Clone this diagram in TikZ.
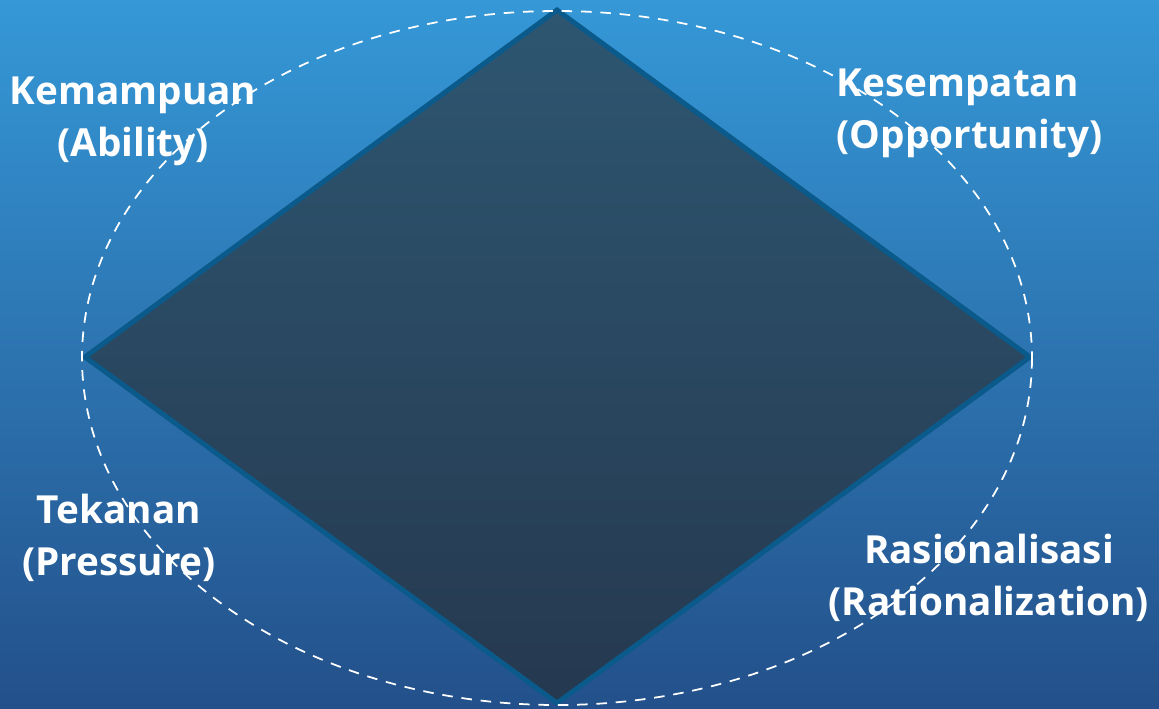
\documentclass[tikz,border=0pt]{standalone}
\usepackage{fontspec}
\setmainfont{Open Sans}
\usepackage{tikz}
\usetikzlibrary{positioning}
\definecolor{bgtop}{HTML}{3598D7}
\definecolor{bgbottom}{HTML}{23508A}
\definecolor{dtop}{HTML}{2E5671}
\definecolor{dbottom}{HTML}{25394F}
\definecolor{dborder}{HTML}{0A5A8B}
\tikzset{
	label text/.style={text=white, font=\bfseries\fontsize{11}{14.8}\selectfont, align=center, inner sep=0pt},
	fraud ring/.style={draw=white, line width=0.5pt, dash pattern=on 3pt off 2.5pt}
}

\begin{document}
\begin{tikzpicture}[x=0.01cm, y=-0.01cm]
		\shade[top color=bgtop, bottom color=bgbottom] (0,0) rectangle (1159,708);
		\useasboundingbox (0,0) rectangle (1159,708);
		% diamond corners
		\coordinate (top) at (557,10);
		\coordinate (right) at (1030,357);
		\coordinate (bottom) at (557,703);
		\coordinate (left) at (85,357);
		\shade[top color=dtop, bottom color=dbottom] (top) -- (right) -- (bottom) -- (left) -- cycle;
		\draw[dborder, line width=1.4pt, line join=miter] (top) -- (right) -- (bottom) -- (left) -- cycle;
		\draw[fraud ring] (557,358) ellipse [x radius=475, y radius=347];
		% labels
		\node[label text] (ability) at (133,121) {Kemampuan\\(Ability)};
		\node[label text, align=left, anchor=west] (opportunity) at (836,113) {Kesempatan\\(Opportunity)};
		\node[label text] (pressure) at (119,538) {Tekanan\\(Pressure)};
		\node[label text] (rationalization) at (989,578) {Rasionalisasi\\(Rationalization)};
	\end{tikzpicture}
\end{document}
